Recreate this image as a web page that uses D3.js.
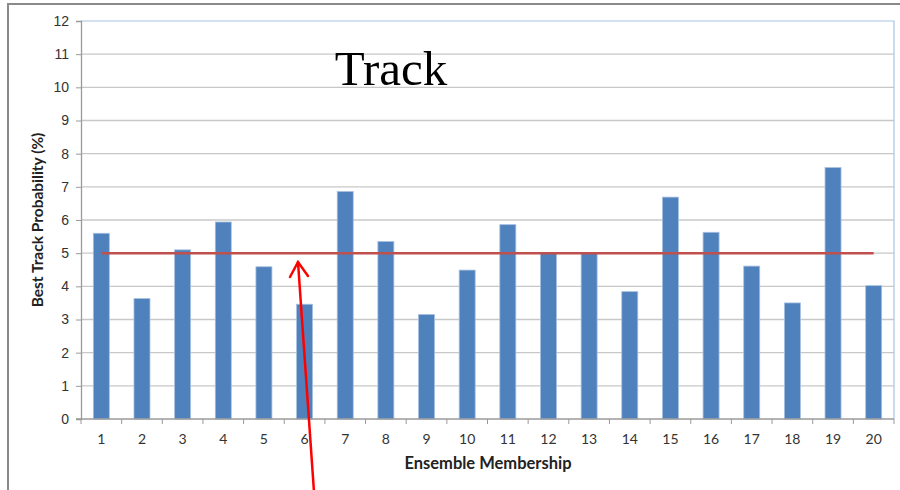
<!DOCTYPE html>
<html>
<head>
<meta charset="utf-8">
<script src="https://cdn.jsdelivr.net/npm/d3@7"></script>
<style>
  body { margin: 0; background: #fff; }
  svg { display: block; font-family: Lato, "Open Sans", sans-serif; }
  .tick text { fill: #333; font-size: 14px; }
</style>
</head>
<body>
<div id="chart"></div>
<script>
// ensemble members and their best track probability (%)
const members = d3.range(1, 21).map(String);
const probs = [5.6, 3.63, 5.1, 5.94, 4.59, 3.46, 6.86, 5.35, 3.15, 4.49,
               5.86, 5.0, 5.0, 3.84, 6.69, 5.63, 4.61, 3.5, 7.58, 4.02];
const yTicks = d3.range(0, 13);
const refLevel = [5];

const W = 900, H = 490;
const margin = {top: 21, right: 6, bottom: 71, left: 81};
const w = W - margin.left - margin.right;
const h = H - margin.top - margin.bottom;

const svg = d3.select("#chart").append("svg")
  .attr("width", W)
  .attr("height", H);

// slide frame
svg.append("path")
  .attr("d", `M8,${H} L8,4 L${W},4`)
  .attr("fill", "none")
  .attr("stroke", "#8a8a8a")
  .attr("stroke-width", 2);

const g = svg.append("g").attr("transform", `translate(${margin.left},${margin.top})`);

let xb = d3.scaleBand().domain(members).range([0, w]);
let y = d3.scaleLinear().domain([0, 12]).range([h, 0]);

// gridlines
g.append("g")
  .selectAll("line")
  .data(yTicks.filter(d => d > 0 && d < 12))
  .join("line")
  .attr("x1", 0).attr("x2", w)
  .attr("y1", d => y(d)).attr("y2", d => y(d))
  .attr("stroke", "#c8c8c8")
  .attr("stroke-width", 1.3);

// plot area border top/right (light blue)
g.append("path")
  .attr("d", `M0,${y(12)} L${w},${y(12)} L${w},${h}`)
  .attr("fill", "none")
  .attr("stroke", "#a9c4e6")
  .attr("stroke-width", 1.2);

// bars
g.selectAll("rect.bar")
  .data(probs)
  .join("rect")
  .attr("class", "bar")
  .attr("x", (d, i) => xb(members[i]) + xb.bandwidth() / 2 - 8)
  .attr("width", 16)
  .attr("y", d => y(d))
  .attr("height", d => h - y(d))
  .attr("fill", "#4f81bd")
  .attr("stroke", "#a7c0e0")
  .attr("stroke-width", 0.8);

// 5% reference line
g.selectAll("line.ref")
  .data(refLevel)
  .join("line")
  .attr("class", "ref")
  .attr("x1", xb(members[0]) + xb.bandwidth() / 2)
  .attr("x2", xb(members[members.length - 1]) + xb.bandwidth() / 2)
  .attr("y1", d => y(d)).attr("y2", d => y(d))
  .attr("stroke", "#c0504d")
  .attr("stroke-width", 2.5);

// y axis
let yAxis = g.append("g")
  .call(d3.axisLeft(y).tickValues(yTicks).tickSize(5).tickPadding(7));
yAxis.select(".domain").attr("stroke", "#9a9a9a").attr("stroke-width", 1.3);
yAxis.selectAll(".tick line").attr("stroke", "#9a9a9a");

// x axis: ticks on band boundaries
let xAxis = g.append("g").attr("transform", `translate(0,${h})`);
xAxis.append("line")
  .attr("x1", -5).attr("x2", w)
  .attr("stroke", "#9a9a9a").attr("stroke-width", 1.3);
xAxis.selectAll("line.tk")
  .data(members.concat(["end"]))
  .join("line")
  .attr("class", "tk")
  .attr("x1", (d, i) => i * xb.step()).attr("x2", (d, i) => i * xb.step())
  .attr("y1", 0).attr("y2", 5)
  .attr("stroke", "#9a9a9a");
xAxis.selectAll("text")
  .data(members)
  .join("text")
  .attr("x", d => xb(d) + xb.bandwidth() / 2)
  .attr("y", 25)
  .attr("text-anchor", "middle")
  .attr("fill", "#333")
  .style("font-size", "14px")
  .text(d => d);

// axis titles
svg.append("text")
  .attr("transform", "translate(43,220) rotate(-90)")
  .attr("text-anchor", "middle")
  .style("font-size", "15.5px")
  .style("font-weight", "bold")
  .attr("fill", "#222")
  .text("Best Track Probability (%)");

svg.append("text")
  .attr("x", 488).attr("y", 469)
  .attr("text-anchor", "middle")
  .style("font-size", "16.5px")
  .style("font-weight", "bold")
  .attr("fill", "#222")
  .text("Ensemble Membership");

// slide title
svg.append("text")
  .attr("x", 391).attr("y", 85)
  .attr("text-anchor", "middle")
  .style("font-family", "'Liberation Serif', 'DejaVu Serif', serif")
  .style("font-size", "49px")
  .attr("fill", "#000")
  .text("Track");

// red annotation arrow
const arrow = svg.append("g")
  .attr("stroke", "#ff0000")
  .attr("stroke-width", 2.5)
  .attr("fill", "none")
  .attr("stroke-linecap", "round");
arrow.append("line").attr("x1", 314).attr("y1", 492).attr("x2", 298).attr("y2", 262);
arrow.append("path").attr("d", "M290,277 L298,262 L308,276");
</script>
</body>
</html>
